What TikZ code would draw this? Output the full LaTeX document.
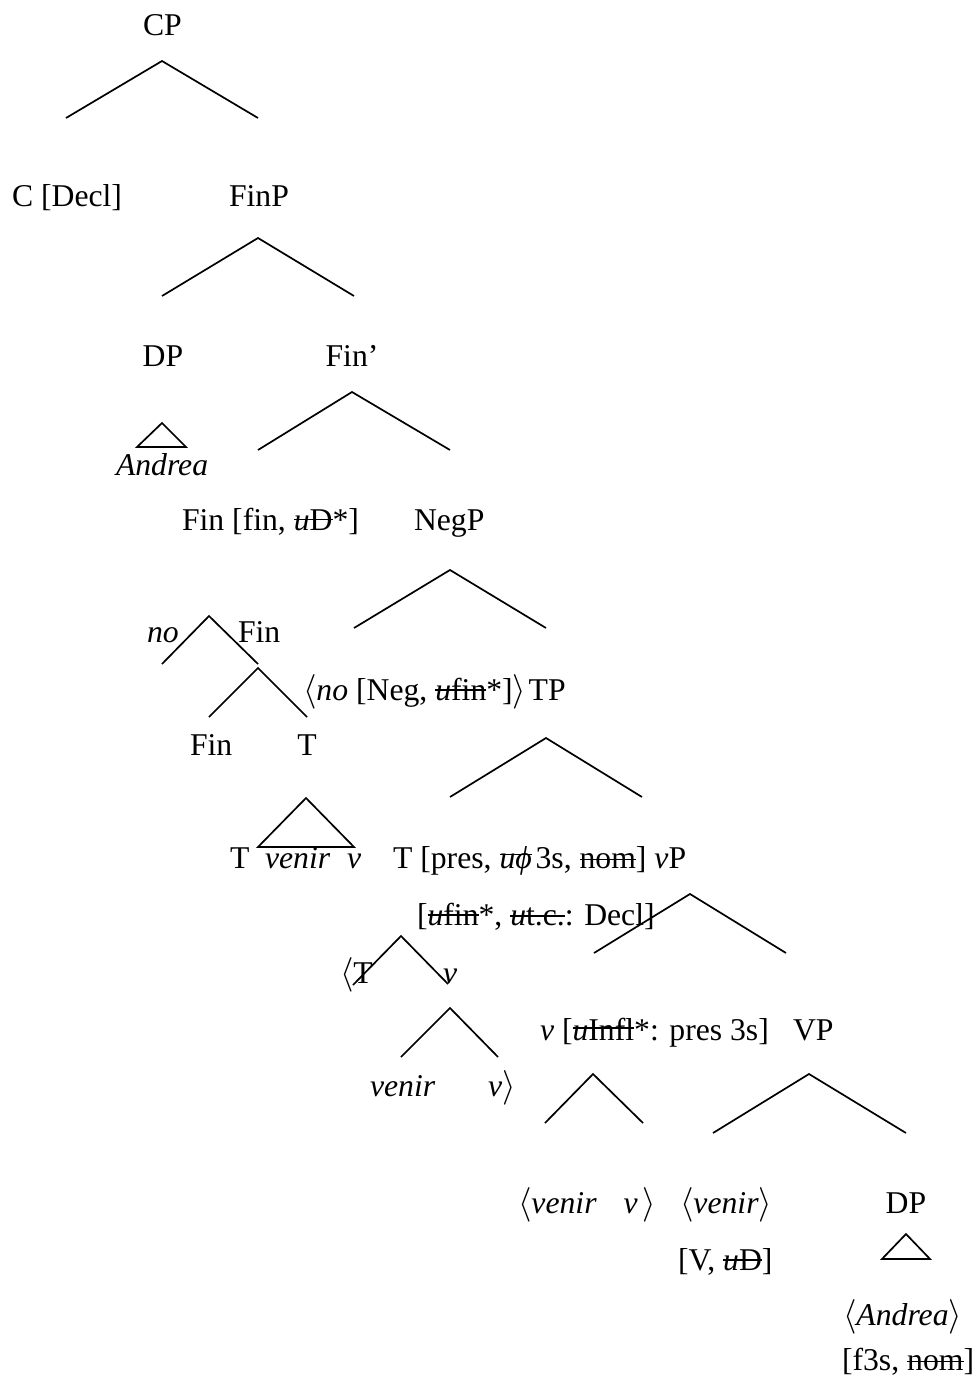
\documentclass[tikz,border=0pt]{standalone}
\usepackage{fontspec}
\setmainfont{Liberation Serif}
\newcommand\strk[2][0.3em]{\setbox0\hbox{#2}\rlap{\rule[#1]{\wd0}{0.05em}}\box0}
\tikzset{
  lbl/.style={inner sep=0pt, outer sep=0pt, anchor=base west, font=\fontsize{15.85}{19}\selectfont},
  lblc/.style={lbl, anchor=base},
  br/.style={line width=0.85pt, line cap=butt},
}
\begin{document}
\begin{tikzpicture}[x=0.5pt, y=-0.5pt]
\fill[white] (0,0) rectangle (975,1387);
\useasboundingbox (0,0) rectangle (975,1387);
% labels
\node[lbl] (CP) at (143,35) {CP};
\node[lbl] (C) at (12,206) {C [Decl]};
\node[lbl] (FinP) at (229,206) {FinP};
\node[lblc] (DP) at (163,366) {DP};
\node[lblc] (Finbar) at (352,366) {Fin’};
\node[lbl] (Andrea) at (116,475) {\textit{Andrea}};
\node[lbl] (Fin) at (182,530) {Fin [fin, \strk{\textit{u}D}*]};
\node[lbl] (NegP) at (414,530) {NegP};
\node[lbl] (no) at (147,642) {\textit{no}};
\node[lbl] (Fin2) at (238,642) {Fin};
\node[lbl] (NoTP) at (303,700) {$\langle$\textit{no} [Neg, \strk{\textit{u}fin}*]$\rangle$\hspace{0.08em}TP};
\node[lbl] (Fin3) at (190,755) {Fin};
\node[lblc] (T1) at (307,755) {T};
\node[lbl] (T2) at (230,868) {T};
\node[lbl] (venir1) at (265,868) {\textit{venir}};
\node[lbl] (v1) at (347,868) {\textit{v}};
\node[lbl] (Tpres) at (393,868) {T [pres, \strk[0.4em]{\textit{uϕ}}\hspace{0.12em}3s, \strk[0.25em]{nom}] \textit{v}P};
\node[lbl] (ufin) at (417,925) {[\strk{\textit{u}fin}*, \strk[0.26em]{\textit{u}t.c.}: Decl]};
\node[lbl] (Tangle) at (340,983) {$\langle$T};
\node[lbl] (v2) at (443,983) {\textit{v}};
\node[lbl] (venir2) at (370,1096) {\textit{venir}};
\node[lbl] (v3) at (488,1096) {\textit{v}$\rangle$};
\node[lbl] (vInfl) at (540,1040) {\textit{v} [\strk[0.35em]{\textit{u}Infl}*: pres 3s]};
\node[lbl] (VP) at (793,1040) {VP};
\node[lbl] (vv) at (518,1213) {$\langle$\textit{venir}\hspace{0.85em}\textit{v}\,$\rangle$};
\node[lbl] (venir3) at (680,1213) {$\langle$\textit{venir}$\rangle$};
\node[lblc] (DP2) at (906,1213) {DP};
\node[lbl] (VuD) at (678,1270) {[V, \strk{\textit{u}D}]};
\node[lbl] (Andrea2) at (843,1325) {$\langle$\textit{Andrea}$\rangle$};
\node[lbl] (f3s) at (842,1370) {[f3s, \strk[0.25em]{nom}]};
% branch points
\coordinate (cpA) at (162,61);   \coordinate (cpL) at (66,118);   \coordinate (cpR) at (258,118);
\coordinate (fpA) at (258,238);  \coordinate (fpL) at (162,296);  \coordinate (fpR) at (354,296);
\coordinate (fbA) at (352,392);  \coordinate (fbL) at (258,450);  \coordinate (fbR) at (450,450);
\coordinate (t1A) at (162,423);  \coordinate (t1L) at (137,447);  \coordinate (t1R) at (186,447);
\coordinate (npA) at (450,570);  \coordinate (npL) at (354,628);  \coordinate (npR) at (546,628);
\coordinate (faA) at (209,616);  \coordinate (faL) at (162,664);  \coordinate (faR) at (258,664);
\coordinate (fbbA) at (258,668); \coordinate (fbbL) at (209,717); \coordinate (fbbR) at (307,717);
\coordinate (tpA) at (546,738);  \coordinate (tpL) at (450,797);  \coordinate (tpR) at (642,797);
\coordinate (t2A) at (306,798);  \coordinate (t2L) at (258,847);  \coordinate (t2R) at (354,847);
\coordinate (vpA) at (690,894);  \coordinate (vpL) at (594,953);  \coordinate (vpR) at (786,953);
\coordinate (taA) at (401,936);  \coordinate (taL) at (353,985);  \coordinate (taR) at (448,984);
\coordinate (vaA) at (450,1008); \coordinate (vaL) at (401,1057); \coordinate (vaR) at (498,1057);
\coordinate (vhA) at (593,1074); \coordinate (vhL) at (545,1123); \coordinate (vhR) at (643,1123);
\coordinate (VPA) at (809,1074); \coordinate (VPL) at (713,1133); \coordinate (VPR) at (906,1133);
\coordinate (t3A) at (906,1234); \coordinate (t3L) at (882,1259); \coordinate (t3R) at (930,1259);
% branches
\draw[br] (cpL) -- (cpA) -- (cpR);
\draw[br] (fpL) -- (fpA) -- (fpR);
\draw[br] (fbL) -- (fbA) -- (fbR);
\draw[br] (t1A) -- (t1L) -- (t1R) -- cycle;
\draw[br] (npL) -- (npA) -- (npR);
\draw[br] (faL) -- (faA) -- (faR);
\draw[br] (fbbL) -- (fbbA) -- (fbbR);
\draw[br] (tpL) -- (tpA) -- (tpR);
\draw[br] (t2A) -- (t2L) -- (t2R) -- cycle;
\draw[br] (vpL) -- (vpA) -- (vpR);
\draw[br] (taL) -- (taA) -- (taR);
\draw[br] (vaL) -- (vaA) -- (vaR);
\draw[br] (vhL) -- (vhA) -- (vhR);
\draw[br] (VPL) -- (VPA) -- (VPR);
\draw[br] (t3A) -- (t3L) -- (t3R) -- cycle;
\end{tikzpicture}
\end{document}
